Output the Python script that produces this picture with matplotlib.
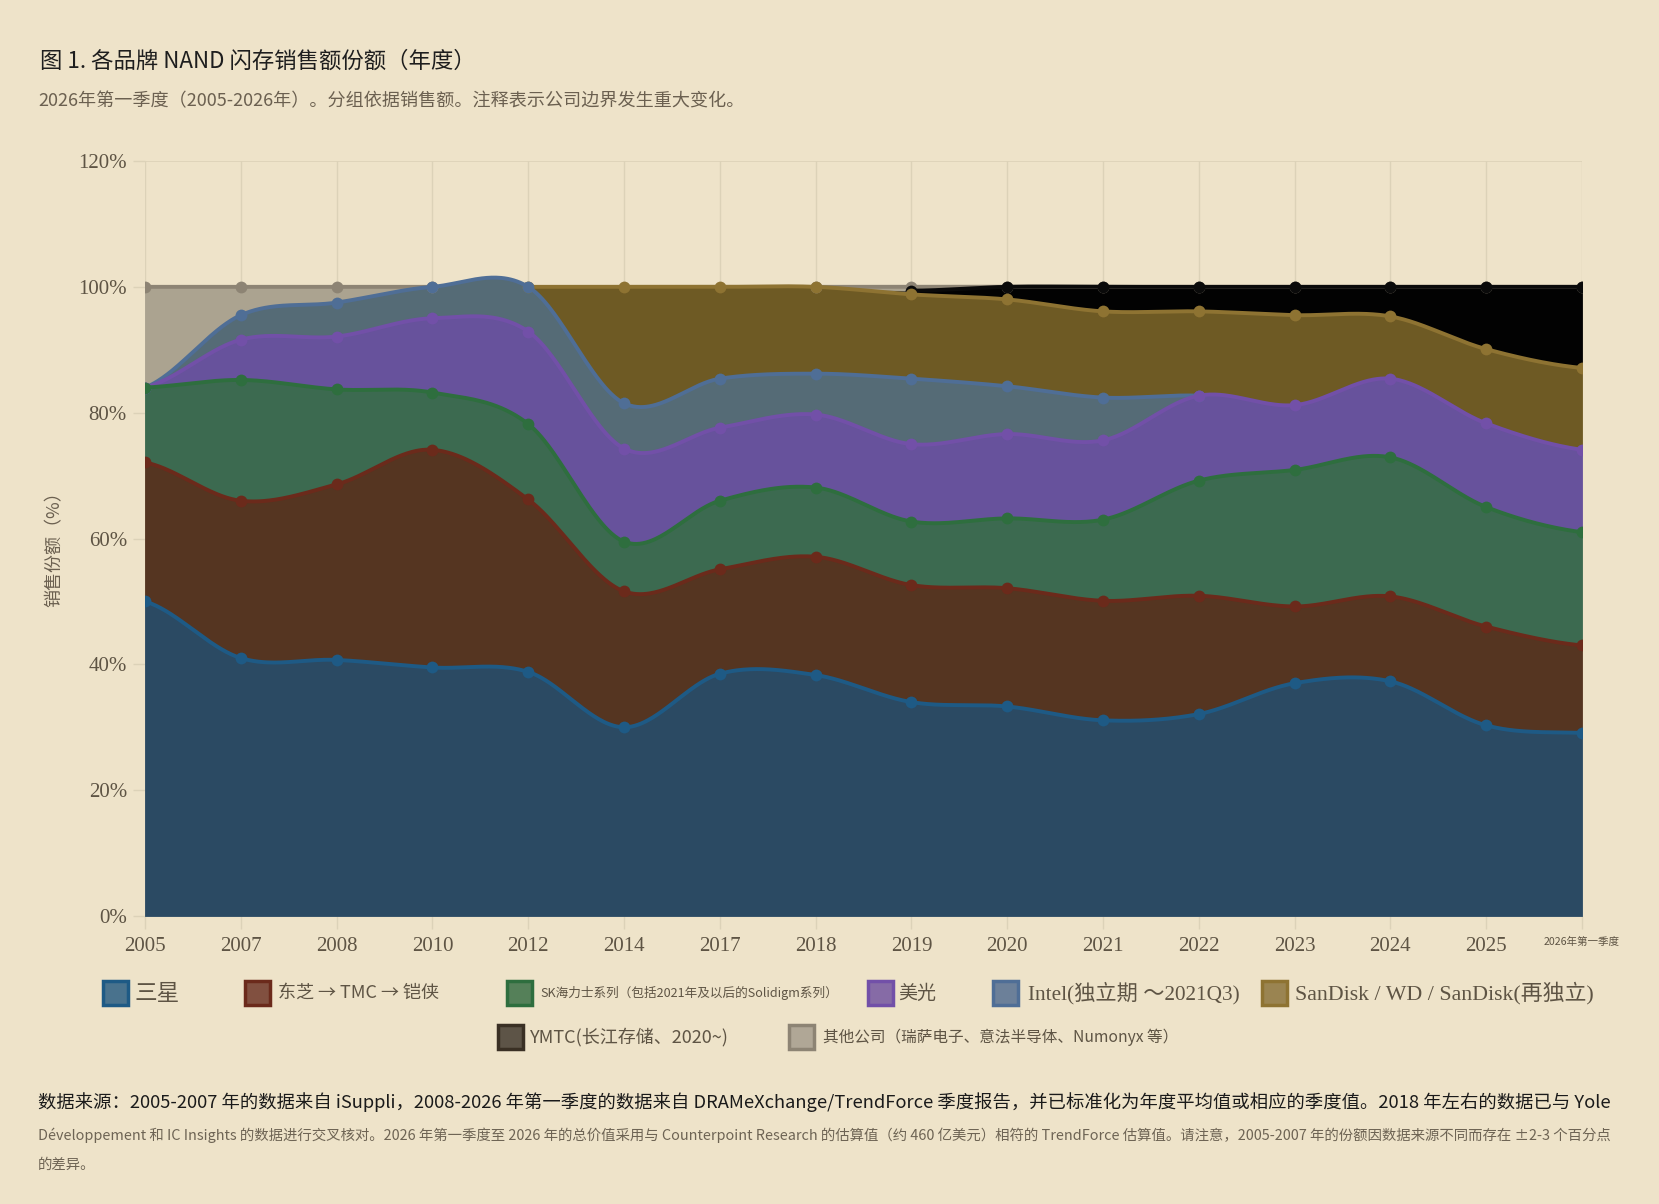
import numpy as np
import matplotlib
matplotlib.use('Agg')
import matplotlib.pyplot as plt
from matplotlib.patches import Rectangle
from matplotlib.colors import to_rgb

nan = np.nan

# ---------------- data ----------------
years = ['2005', '2007', '2008', '2010', '2012', '2014', '2017', '2018', '2019',
         '2020', '2021', '2022', '2023', '2024', '2025', '2026年第一季度']

samsung = [50.0, 41.0, 40.7, 39.5, 38.8, 30.0, 38.5, 38.3, 34.0, 33.3, 31.1, 32.1, 37.0, 37.3, 30.3, 29.1]
toshiba = [22.1, 25.0, 27.9, 34.6, 27.4, 21.6, 16.6, 18.8, 18.6, 18.8, 19.0, 18.8, 12.2, 13.5, 15.7, 13.9]
skhynix = [11.9, 19.2, 15.1, 9.1, 12.0, 7.9, 10.9, 11.0, 10.1, 11.1, 12.9, 18.3, 21.7, 22.1, 19.0, 18.0]
micron = [0.0, 6.4, 8.4, 11.8, 14.7, 14.8, 11.6, 11.6, 12.3, 13.4, 12.6, 13.5, 10.3, 12.5, 13.3, 13.1]
intel = [0.0, 3.9, 5.4, 5.0, 7.1, 7.2, 7.8, 6.5, 10.4, 7.6, 6.8, 0.0, nan, nan, nan, nan]
sandisk = [nan, nan, nan, nan, 0.0, 18.5, 14.6, 13.8, 13.4, 13.8, 13.7, 13.4, 14.3, 9.9, 11.8, 13.0]
ymtc = [nan, nan, nan, nan, nan, nan, nan, nan, 0.6, 2.0, 3.9, 3.9, 4.5, 4.7, 9.9, 12.9]
others = [16.0, 4.5, 2.5, 0.0, nan, nan, nan, 0.0, 0.6, 0.0, 0.0, 0.0, 0.0, 0.0, 0.0, 0.0]

legend_labels = ['三星', '东芝 → TMC → 铠侠', 'SK海力士系列（包括2021年及以后的Solidigm系列）', '美光',
                 'Intel(独立期 ～2021Q3)', 'SanDisk / WD / SanDisk(再独立)',
                 'YMTC(长江存储、2020~)', '其他公司（瑞萨电子、意法半导体、Numonyx 等）']

title = '图 1. 各品牌 NAND 闪存销售额份额（年度）'
subtitle = '2026年第一季度（2005-2026年）。分组依据销售额。注释表示公司边界发生重大变化。'
ylabel = '销售份额（%）'
foot1 = ('数据来源：2005-2007 年的数据来自 iSuppli，2008-2026 年第一季度的数据来自 DRAMeXchange/TrendForce 季度报告，'
         '并已标准化为年度平均值或相应的季度值。2018 年左右的数据已与 Yole')
foot2 = ('Développement 和 IC Insights 的数据进行交叉核对。2026 年第一季度至 2026 年的总价值采用与 Counterpoint Research '
         '的估算值（约 460 亿美元）相符的 TrendForce 估算值。请注意，2005-2007 年的份额因数据来源不同而存在 ±2-3 个百分点')
foot3 = '的差异。'

# ---------------- style ----------------
W, H = 1659, 1204
BG = '#EEE3C9'
GRID = '#DCD2B8'
TXT = '#5E5444'
fill_colors = ['#2B4A63', '#553521', '#3C6A50', '#67529C', '#556B76', '#6E5A24', '#020202', '#ABA390']
line_colors = ['#1E5A85', '#6B2A1B', '#2E6E3E', '#7250A8', '#4F6E96', '#8E7332', '#0A0A0A', '#8D8474']
CJK = ['Noto Sans CJK SC', 'DejaVu Sans']
SERIF = ['Liberation Serif', 'Noto Sans CJK SC']

plt.rcParams['font.family'] = CJK


def fx(px):
    return px / W


def fy(py):
    return 1 - py / H


fig = plt.figure(figsize=(W / 100, H / 100), dpi=100, facecolor=BG)
ax = fig.add_axes([fx(145), fy(916), (1582 - 145) / W, (916 - 161) / H])
ax.set_facecolor(BG)
renderer = fig.canvas.get_renderer()


def fit(t, target_w):
    bb = t.get_window_extent(renderer)
    t.set_fontsize(t.get_fontsize() * target_w / bb.width)
    return t


x = np.arange(len(years), dtype=float)
series = [samsung, toshiba, skhynix, micron, intel, sandisk, ymtc, others]
S = np.array(series, dtype=float)
valid = ~np.isnan(S)
cum = np.cumsum(np.nan_to_num(S), axis=0)


def smooth(y, n=60):
    y = np.asarray(y, float)
    N = len(y)
    m = np.zeros(N)
    m[1:-1] = (y[2:] - y[:-2]) / 2.0
    m[0] = (y[1] - y[0]) / 2.0
    m[-1] = (y[-1] - y[-2]) / 2.0
    xs, ys = [], []
    for i in range(N - 1):
        t = np.linspace(0, 1, n, endpoint=(i == N - 2))
        h00 = 2 * t**3 - 3 * t**2 + 1
        h10 = t**3 - 2 * t**2 + t
        h01 = -2 * t**3 + 3 * t**2
        h11 = t**3 - t**2
        ys.append(h00 * y[i] + h10 * m[i] + h01 * y[i + 1] + h11 * m[i + 1])
        xs.append(x[i] + t * (x[i + 1] - x[i]))
    return np.concatenate(xs), np.concatenate(ys)


xs = smooth(cum[0])[0]
seg = np.clip(np.floor(xs).astype(int), 0, len(x) - 2)

# smoothed stacked boundaries (an empty series never dips below the one beneath it)
tops = []
lower = np.zeros_like(xs)
for k in range(len(series)):
    up = smooth(cum[k])[1]
    vd = valid[k][seg] & valid[k][seg + 1]
    up = np.where(vd, up, np.maximum(up, lower))
    up = np.maximum(up, lower)
    tops.append(up)
    lower = up

# fills
lower = np.zeros_like(xs)
for k in range(len(series)):
    ax.fill_between(xs, lower, tops[k], facecolor=fill_colors[k], edgecolor=fill_colors[k],
                    linewidth=0.6, zorder=2)
    lower = tops[k]

# lines + markers (lower series drawn on top)
for k in reversed(range(len(series))):
    vd = valid[k][seg] & valid[k][seg + 1]
    yl = np.where(vd, tops[k], np.nan)
    z = 3 + (len(series) - k) * 0.1
    ax.plot(xs, yl, color=line_colors[k], lw=2.8, solid_capstyle='round', zorder=z)
    ax.plot(x[valid[k]], cum[k][valid[k]], 'o', color=line_colors[k], ms=8.5,
            markeredgewidth=0, zorder=z)

ax.set_xlim(0, len(x) - 1)
ax.set_ylim(0, 120)
for s in ax.spines.values():
    s.set_visible(False)
ax.grid(axis='x', color=GRID, lw=1.0, zorder=0)
ax.axhline(120, color=GRID, lw=1.2, zorder=0)
ax.set_axisbelow(True)

ax.set_yticks(range(0, 121, 20))
ax.set_yticklabels([f'{v}%' for v in range(0, 121, 20)], fontfamily=SERIF, fontsize=15, color=TXT)
ax.set_xticks(x)
ax.set_xticklabels(years, fontfamily=SERIF, fontsize=15, color=TXT)
ax.tick_params(axis='y', length=9, width=1, color=GRID, pad=4)
ax.tick_params(axis='x', length=9, width=1, color=GRID, pad=6)
last = ax.get_xticklabels()[-1]
last.set_fontfamily(CJK)
last.set_fontsize(7.6)

fig.text(fx(55), fy(545), ylabel, rotation=90, fontsize=13, color='#6B6050',
         ha='center', va='center')

# title / subtitle
t = fig.text(fx(40), fy(61), title, fontsize=16, color='#1E1E1E', va='center', ha='left')
fit(t, 436)
t = fig.text(fx(38), fy(101), subtitle, fontsize=12.5, color='#6B6050', va='center', ha='left')
fit(t, 706)

# legend
leg_items = [
    (0, 103, 993, 135, 45, CJK),
    (1, 245, 993, 278, 161, CJK),
    (2, 507, 993, 540, 297, CJK),
    (3, 868, 993, 898, 38, CJK),
    (4, 993, 993, 1028, 211, SERIF),
    (5, 1262, 993, 1295, 298, SERIF),
    (6, 498, 1037, 530, 199, CJK),
    (7, 789, 1037, 823, 355, CJK),
]
for k, sx, cy, tx, tw, fam in leg_items:
    lc = np.array(to_rgb(line_colors[k]))
    if k == 6:
        lc = np.array(to_rgb('#3A3024'))
    inner = lc * 0.72 + np.array(to_rgb('#B8B0A0')) * 0.28
    if k == 7:
        lc = np.array(to_rgb('#8D8474'))
        inner = np.array(to_rgb('#B0A796'))
    fig.add_artist(Rectangle((fx(sx), fy(cy + 12)), 25 / W, 24 / H, transform=fig.transFigure,
                             facecolor=inner, edgecolor=lc, lw=2.5))
    tt = fig.text(fx(tx), fy(cy), legend_labels[k], fontfamily=fam, fontsize=13, color=TXT,
                  va='center', ha='left')
    fit(tt, tw)

# footer
t = fig.text(fx(38), fy(1102), foot1, fontsize=14, color='#1A1A1A', va='center', ha='left')
fit(t, 1574)
t = fig.text(fx(38), fy(1135), foot2, fontsize=11, color='#6E6454', va='center', ha='left')
fit(t, 1571)
fig.text(fx(38), fy(1165), foot3, fontsize=t.get_fontsize(), color='#6E6454', va='center', ha='left')

fig.savefig('out.png', dpi=100, facecolor=BG)
